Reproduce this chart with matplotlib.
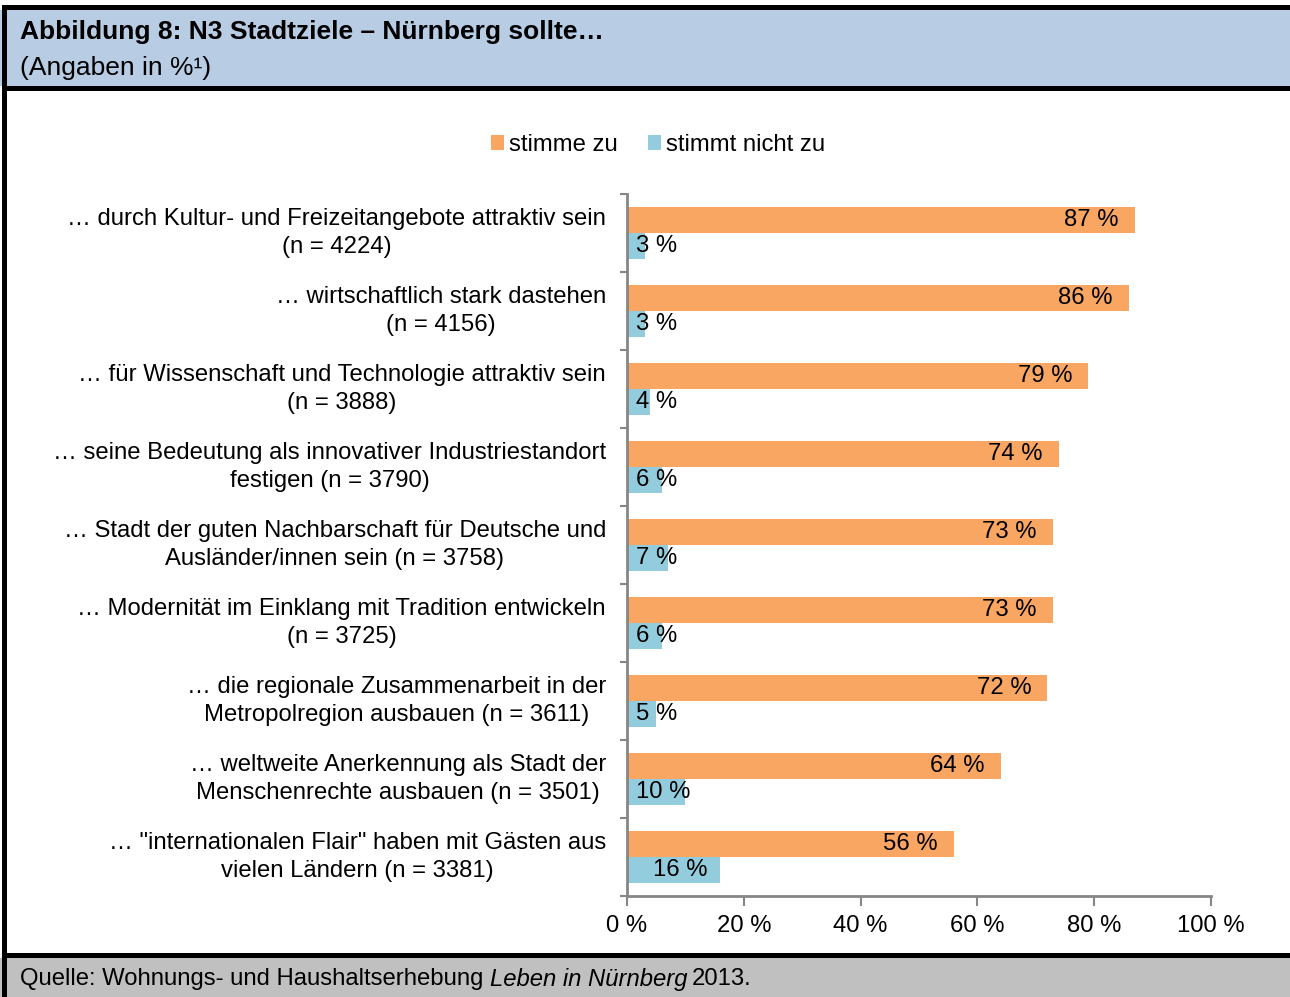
import matplotlib
matplotlib.use("Agg")
import matplotlib.pyplot as plt
from matplotlib.patches import Rectangle
import numpy as np

plt.rcParams['font.family'] = ['Liberation Sans', 'DejaVu Sans']

categories = [
    "… durch Kultur- und Freizeitangebote attraktiv sein\n(n = 4224)",
    "… wirtschaftlich stark dastehen\n(n = 4156)",
    "… für Wissenschaft und Technologie attraktiv sein\n(n = 3888)",
    "… seine Bedeutung als innovativer Industriestandort\nfestigen (n = 3790)",
    "… Stadt der guten Nachbarschaft für Deutsche und\nAusländer/innen sein (n = 3758)",
    "… Modernität im Einklang mit Tradition entwickeln\n(n = 3725)",
    "… die regionale Zusammenarbeit in der\nMetropolregion ausbauen (n = 3611)",
    "… weltweite Anerkennung als Stadt der\nMenschenrechte ausbauen (n = 3501)",
    "… \"internationalen Flair\" haben mit Gästen aus\nvielen Ländern (n = 3381)",
]
agree = [87, 86, 79, 74, 73, 73, 72, 64, 56]
disagree = [3, 3, 4, 6, 7, 6, 5, 10, 16]
series_names = ["stimme zu", "stimmt nicht zu"]
xticks = [0, 20, 40, 60, 80, 100]

W, H = 1290, 997
FS = 17.2
fig = plt.figure(figsize=(W / 100, H / 100), dpi=100)

def px_rect(x0, y0, x1, y1, color):
    fig.patches.append(Rectangle((x0 / W, 1 - y1 / H), (x1 - x0) / W, (y1 - y0) / H,
                                 transform=fig.transFigure, facecolor=color,
                                 edgecolor='none', zorder=0))

# header / footer bands and frame lines
px_rect(0, 10, W, 86, '#B8CCE4')
px_rect(0, 958, W, H, '#C0C0C0')
px_rect(2, 5, W, 10, 'black')
px_rect(2, 86, W, 91, 'black')
px_rect(2, 953, W, 958, 'black')
px_rect(2, 5, 7, H, 'black')

fig.text(20 / W, 1 - 32 / H, "Abbildung 8: N3 Stadtziele – Nürnberg sollte…",
         fontsize=19, fontweight='bold', va='center', ha='left')
fig.text(20 / W, 1 - 68 / H, "(Angaben in %¹)", fontsize=19, va='center', ha='left')

ax = fig.add_axes([627 / W, 1 - 896 / H, (1211 - 627) / W, (896 - 194) / H])

orange = '#F9A662'
blue = '#93CDDD'
n = len(categories)
y = np.arange(n)
bh = 1 / 3
ax.barh(y - bh / 2, agree, height=bh, color=orange, label=series_names[0])
ax.barh(y + bh / 2, disagree, height=bh, color=blue, label=series_names[1])

for i in range(n):
    ax.text(agree[i] - 2.8, y[i] - bh / 2, f"{agree[i]} %", ha='right', va='center', fontsize=FS)
    ax.text(max(disagree[i] / 2 + 1.2, 5.0), y[i] + bh / 2, f"{disagree[i]} %",
            ha='center', va='center', fontsize=FS)

ax.set_xlim(0, 100)
ax.set_ylim(n - 0.5, -0.5)
ax.set_xticks(xticks)
ax.set_xticklabels([f"{t} %" for t in xticks], fontsize=FS)
ax.set_yticks(np.arange(n + 1) - 0.5)
ax.set_yticklabels([])
ax.tick_params(axis='y', length=5, color='#868686', width=1.5)
ax.tick_params(axis='x', length=7, color='#868686', width=1.5, pad=7)
for s in ['top', 'right']:
    ax.spines[s].set_visible(False)
for s in ['left', 'bottom']:
    ax.spines[s].set_color('#868686')
    ax.spines[s].set_linewidth(2)

for i, c in enumerate(categories):
    ax.text(-3.6, y[i], c, ha='right', va='center', multialignment='center',
            fontsize=FS, linespacing=1.3, transform=ax.transData, clip_on=False)

fig.legend(loc='center', bbox_to_anchor=(658 / W, 1 - 145 / H), ncol=2, frameon=False,
           fontsize=FS, handlelength=0.55, handleheight=0.55, handletextpad=0.2,
           columnspacing=1.3)

# footer with italic part
fig.canvas.draw()
r = fig.canvas.get_renderer()
t1 = fig.text(20 / W, 1 - 979 / H, "Quelle: Wohnungs- und Haushaltserhebung ",
              fontsize=FS, va='center', ha='left')
x = t1.get_window_extent(r).x1
t2 = fig.text(x / W, 1 - 979 / H, "Leben in Nürnberg", fontsize=FS, style='italic',
              va='center', ha='left')
x = t2.get_window_extent(r).x1
fig.text(x / W + 4 / W, 1 - 979 / H, "2013.", fontsize=FS, va='center', ha='left')

fig.savefig("out.png", dpi=100)
